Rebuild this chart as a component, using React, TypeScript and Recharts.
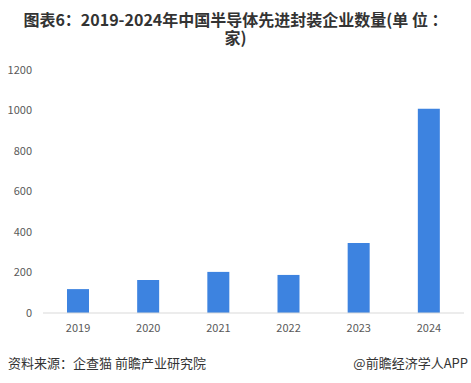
import React from 'react';
import { BarChart, Bar, XAxis, YAxis } from 'recharts';

const years = ['2019', '2020', '2021', '2022', '2023', '2024'];
const counts = [118, 163, 203, 188, 346, 1009];
const yTicks = [0, 200, 400, 600, 800, 1000, 1200];

const data = years.map((y, i) => ({ year: y, value: counts[i] }));

const FONT = '"Noto Sans CJK SC", "Noto Sans", sans-serif';

export default function App() {
  return (
    <div style={{ position: 'absolute', left: 0, top: 0, width: 471, height: 383, background: '#fff', fontFamily: FONT }}>
      <div style={{ position: 'absolute', left: 19, top: 10, width: 433, textAlign: 'center', fontSize: 16, fontWeight: 700, color: '#333', lineHeight: '18px' }}>
        图表6：2019-2024年中国半导体先进封装企业数量(单 位 ：家)
      </div>
      <div style={{ position: 'absolute', left: 0, top: 0 }}>
        <BarChart width={471} height={383} data={data} margin={{ top: 70, right: 7, bottom: 40, left: 0 }}>
          <XAxis
            dataKey="year"
            height={30}
            axisLine={{ stroke: '#d9d9d9' }}
            tickLine={false}
            tickSize={0}
            tickMargin={11}
            tick={{ fill: '#595959', fontSize: 11, fontFamily: FONT }}
          />
          <YAxis
            width={43}
            domain={[0, 1200]}
            ticks={yTicks}
            axisLine={false}
            tickLine={false}
            tickSize={0}
            tickMargin={11}
            interval={0}
            tick={{ fill: '#595959', fontSize: 11, fontFamily: FONT }}
          />
          <Bar dataKey="value" fill="#3d83e0" barSize={22} isAnimationActive={false} />
        </BarChart>
      </div>
      <div style={{ position: 'absolute', left: 8, top: 354, fontSize: 13, color: '#333', lineHeight: '17px', whiteSpace: 'nowrap' }}>
        资料来源：企查猫 前瞻产业研究院
      </div>
      <div style={{ position: 'absolute', right: 3, top: 354, fontSize: 13, color: '#333', lineHeight: '17px', whiteSpace: 'nowrap' }}>
        @前瞻经济学人APP
      </div>
    </div>
  );
}
